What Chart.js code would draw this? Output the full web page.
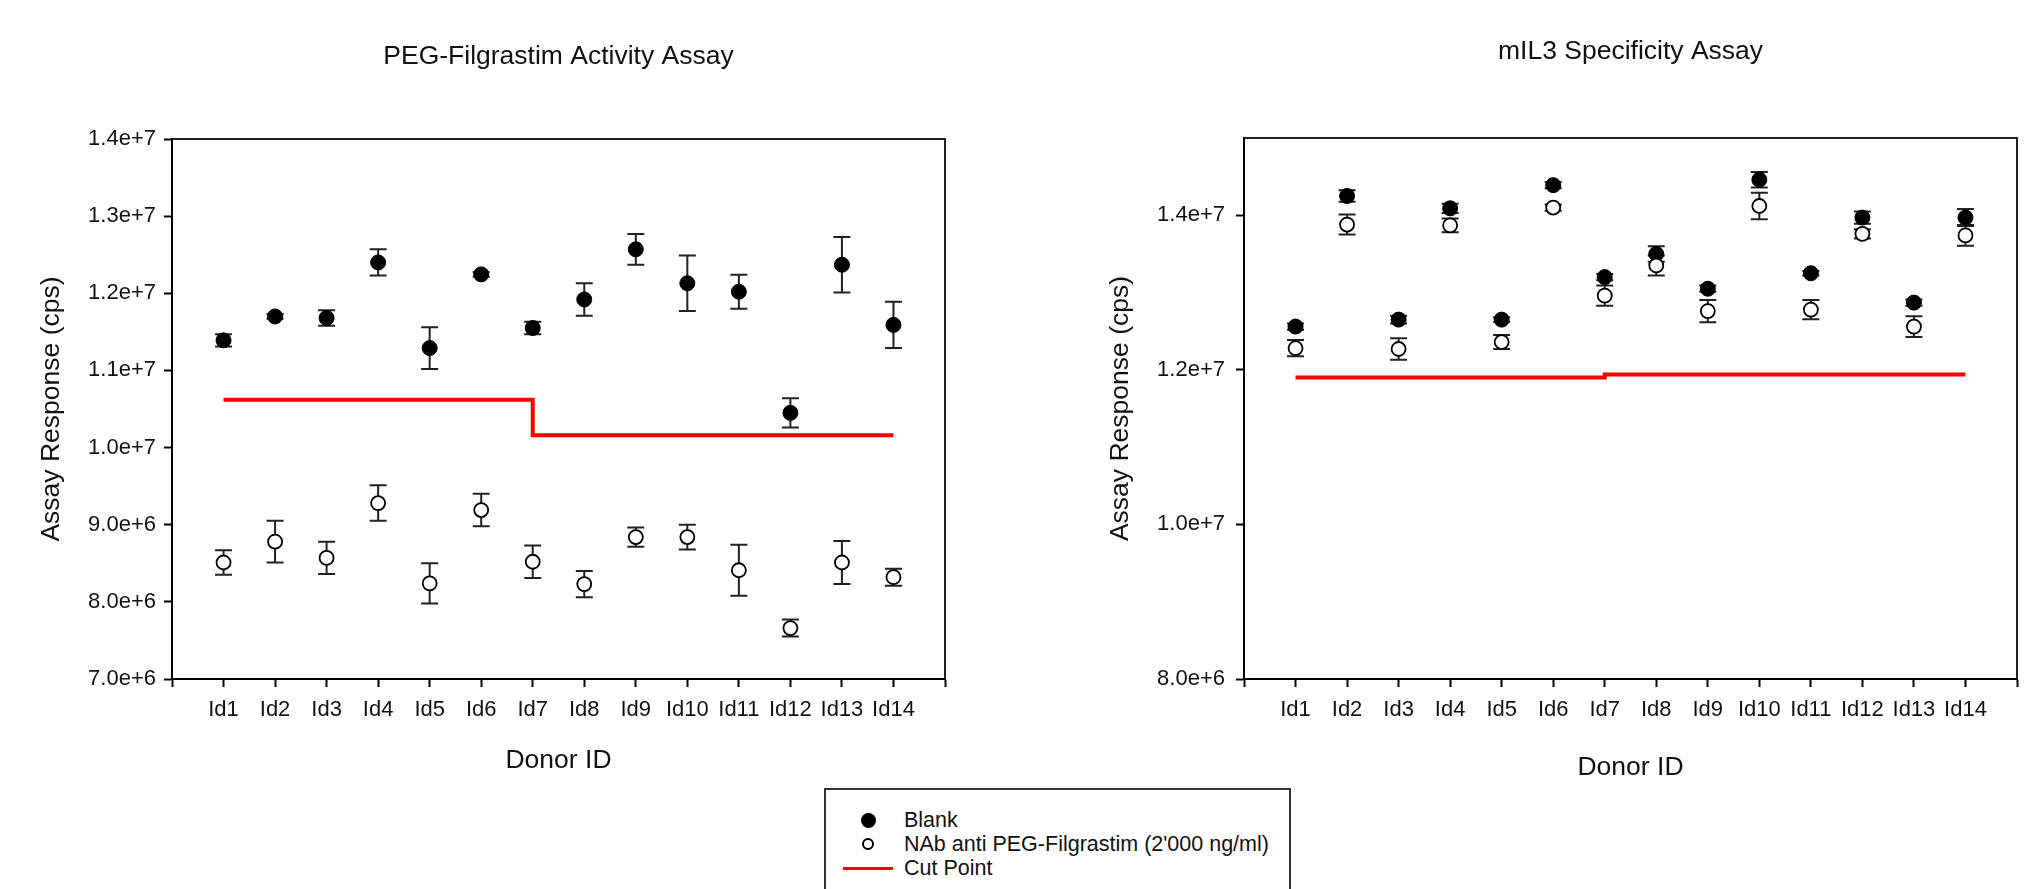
<!DOCTYPE html>
<html lang="en">
<head>
  <meta charset="UTF-8" />
  <title>Donor Assay Responses</title>
  <script src="https://cdn.jsdelivr.net/npm/chart.js"></script>
  <style>
    html, body { margin: 0; padding: 0; background: #fff; }
    body { width: 2039px; height: 889px; position: relative; overflow: hidden; font-family: 'Liberation Sans', Arial, sans-serif; }
    canvas { position: absolute; top: 0; }
    #graficoPeg { left: 0; }
    #graficoMil3 { left: 1000px; }
    #legenda {
      position: absolute; left: 824px; top: 788px; width: 463px; height: 140px;
      border: 2px solid #333; background: #fff; box-sizing: content-box;
      padding-top: 18px;
    }
    .item { display: flex; align-items: center; height: 24px; font-size: 21.5px; color: #111; padding-left: 17px; }
    .simbolo { width: 50px; height: 18px; display: flex; align-items: center; justify-content: center; margin-right: 11px; }
    .cheio { width: 15px; height: 15px; border-radius: 50%; background: #000; }
    .vazio { width: 8px; height: 8px; border-radius: 50%; border: 2px solid #000; background: #fff; }
    .linha { width: 50px; height: 3px; background: #ff0000; }
  </style>
</head>
<body>
  <canvas id="graficoPeg" width="1000" height="889"></canvas>
  <canvas id="graficoMil3" width="1039" height="889"></canvas>

  <div id="legenda">
    <div class="item"><span class="simbolo"><span class="cheio"></span></span><span>Blank</span></div>
    <div class="item"><span class="simbolo"><span class="vazio"></span></span><span>NAb anti PEG-Filgrastim (2'000 ng/ml)</span></div>
    <div class="item"><span class="simbolo"><span class="linha"></span></span><span>Cut Point</span></div>
  </div>

<script>
  const donorIds = ['Id1', 'Id2', 'Id3', 'Id4', 'Id5', 'Id6', 'Id7', 'Id8', 'Id9', 'Id10', 'Id11', 'Id12', 'Id13', 'Id14'];

  // PEG-Filgrastim activity (cps), mean and SD per donor
  const pegBlank = [11.39e6, 11.70e6, 11.68e6, 12.40e6, 11.29e6, 12.245e6, 11.55e6, 11.92e6, 12.57e6, 12.13e6, 12.02e6, 10.45e6, 12.37e6, 11.59e6];
  const pegBlankSd = [0.08e6, 0.03e6, 0.10e6, 0.17e6, 0.27e6, 0.03e6, 0.08e6, 0.21e6, 0.20e6, 0.36e6, 0.22e6, 0.19e6, 0.36e6, 0.30e6];
  const pegNab = [8.51e6, 8.78e6, 8.57e6, 9.28e6, 8.24e6, 9.19e6, 8.52e6, 8.23e6, 8.84e6, 8.84e6, 8.41e6, 7.66e6, 8.51e6, 8.32e6];
  const pegNabSd = [0.16e6, 0.27e6, 0.21e6, 0.23e6, 0.26e6, 0.21e6, 0.21e6, 0.17e6, 0.125e6, 0.16e6, 0.33e6, 0.11e6, 0.28e6, 0.11e6];
  const pegCut = [10.62e6, 10.62e6, 10.62e6, 10.62e6, 10.62e6, 10.62e6, 10.16e6, 10.16e6, 10.16e6, 10.16e6, 10.16e6, 10.16e6, 10.16e6, 10.16e6];

  // mIL3 specificity (cps)
  const milBlank = [12.56e6, 14.25e6, 12.65e6, 14.09e6, 12.65e6, 14.39e6, 13.20e6, 13.50e6, 13.05e6, 14.46e6, 13.25e6, 13.97e6, 12.87e6, 13.97e6];
  const milBlankSd = [0.04e6, 0.075e6, 0.05e6, 0.06e6, 0.03e6, 0.04e6, 0.04e6, 0.10e6, 0.04e6, 0.10e6, 0.03e6, 0.08e6, 0.04e6, 0.11e6];
  const milNab = [12.28e6, 13.88e6, 12.27e6, 13.87e6, 12.36e6, 14.10e6, 12.96e6, 13.35e6, 12.76e6, 14.12e6, 12.78e6, 13.76e6, 12.56e6, 13.74e6];
  const milNabSd = [0.105e6, 0.13e6, 0.14e6, 0.09e6, 0.09e6, 0.04e6, 0.13e6, 0.13e6, 0.145e6, 0.17e6, 0.125e6, 0.06e6, 0.135e6, 0.135e6];
  const milCut = [11.90e6, 11.90e6, 11.90e6, 11.90e6, 11.90e6, 11.90e6, 11.94e6, 11.94e6, 11.94e6, 11.94e6, 11.94e6, 11.94e6, 11.94e6, 11.94e6];

  const pegYTicks = [7e6, 8e6, 9e6, 10e6, 11e6, 12e6, 13e6, 14e6];
  const pegYLabels = ['7.0e+6', '8.0e+6', '9.0e+6', '1.0e+7', '1.1e+7', '1.2e+7', '1.3e+7', '1.4e+7'];
  const milYTicks = [8e6, 10e6, 12e6, 14e6];
  const milYLabels = ['8.0e+6', '1.0e+7', '1.2e+7', '1.4e+7'];

  const FONTE = "'Liberation Sans', Arial, sans-serif";
  Chart.defaults.font.family = FONTE;
  Chart.defaults.color = '#111';

  // SD whiskers, drawn under the markers
  const barrasErro = {
    id: 'barrasErro',
    beforeDatasetsDraw(chart) {
      const { ctx, scales: { x, y } } = chart;
      ctx.save();
      ctx.strokeStyle = '#222';
      ctx.lineWidth = 2;
      chart.data.datasets.forEach(ds => {
        if (!ds.sd) return;
        ds.data.forEach((p, i) => {
          const px = x.getPixelForValue(p.x);
          const topo = y.getPixelForValue(p.y + ds.sd[i]);
          const base = y.getPixelForValue(p.y - ds.sd[i]);
          ctx.beginPath();
          ctx.moveTo(px, topo); ctx.lineTo(px, base);
          ctx.moveTo(px - 8.5, topo); ctx.lineTo(px + 8.5, topo);
          ctx.moveTo(px - 8.5, base); ctx.lineTo(px + 8.5, base);
          ctx.stroke();
        });
      });
      ctx.restore();
    }
  };

  // top and right edges of the plot box, plus the panel title
  const moldura = {
    id: 'moldura',
    afterDraw(chart, args, opts) {
      const { ctx, chartArea: a } = chart;
      ctx.save();
      ctx.strokeStyle = '#222';
      ctx.lineWidth = 2;
      ctx.beginPath();
      ctx.moveTo(a.left, a.top); ctx.lineTo(a.right, a.top); ctx.lineTo(a.right, a.bottom);
      ctx.stroke();
      ctx.fillStyle = '#111';
      ctx.font = `26.5px ${FONTE}`;
      ctx.textAlign = 'center';
      ctx.textBaseline = 'middle';
      ctx.fillText(opts.titulo, (a.left + a.right) / 2, opts.tituloY);
      ctx.restore();
    }
  };

  function pontos(valores) {
    return valores.map((v, i) => ({ x: i + 1, y: v }));
  }

  function criarGrafico(id, cfg) {
    const ctx = document.getElementById(id).getContext('2d');
    return new Chart(ctx, {
      type: 'scatter',
      data: {
        datasets: [
          {
            label: 'Cut Point',
            data: pontos(cfg.cut),
            showLine: true,
            stepped: true,
            borderColor: '#ff0000',
            borderWidth: 4,
            pointRadius: 0,
            order: 3
          },
          {
            label: 'Blank',
            data: pontos(cfg.blank),
            sd: cfg.blankSd,
            pointRadius: 7.5,
            pointBackgroundColor: '#000',
            pointBorderColor: '#000',
            pointBorderWidth: 1,
            order: 2
          },
          {
            label: "NAb anti PEG-Filgrastim (2'000 ng/ml)",
            data: pontos(cfg.nab),
            sd: cfg.nabSd,
            pointRadius: 7,
            pointBackgroundColor: '#fff',
            pointBorderColor: '#000',
            pointBorderWidth: 1.8,
            order: 1
          }
        ]
      },
      options: {
        responsive: false,
        animation: false,
        events: [],
        layout: { padding: cfg.padding },
        plugins: {
          legend: { display: false },
          tooltip: { enabled: false },
          moldura: { titulo: cfg.titulo, tituloY: cfg.tituloY }
        },
        scales: {
          x: {
            type: 'linear',
            min: 0,
            max: donorIds.length + 1,
            afterBuildTicks: axis => {
              axis.ticks = Array.from({ length: donorIds.length + 2 }, (_, i) => ({ value: i }));
            },
            afterFit: axis => { axis.height = 210; },
            ticks: {
              autoSkip: false,
              maxRotation: 0,
              padding: 10,
              font: { size: 22 },
              color: '#111',
              callback: v => donorIds[v - 1] || ''
            },
            grid: { drawOnChartArea: false, tickLength: 8, tickWidth: 2, tickColor: '#000' },
            border: { display: true, color: '#000', width: 2 },
            title: {
              display: true,
              text: 'Donor ID',
              font: { size: 26.5 },
              color: '#111',
              padding: { top: 0, bottom: cfg.xTitlePad }
            }
          },
          y: {
            min: cfg.yMin,
            max: cfg.yMax,
            afterBuildTicks: axis => {
              axis.ticks = cfg.yTicks.map(v => ({ value: v }));
            },
            afterFit: axis => { axis.width = cfg.yWidth; },
            ticks: {
              padding: cfg.yTickPad,
              font: { size: 22 },
              color: '#111',
              callback: v => cfg.yLabels[cfg.yTicks.indexOf(v)]
            },
            grid: { drawOnChartArea: false, tickLength: 8, tickWidth: 2, tickColor: '#000' },
            border: { display: true, color: '#000', width: 2 },
            title: {
              display: true,
              text: 'Assay Response (cps)',
              font: { size: 26.5 },
              color: '#111',
              padding: { top: cfg.yTitlePad, bottom: 0 }
            }
          }
        }
      },
      plugins: [barrasErro, moldura]
    });
  }

  criarGrafico('graficoPeg', {
    titulo: 'PEG-Filgrastim Activity Assay',
    tituloY: 57,
    blank: pegBlank, blankSd: pegBlankSd,
    nab: pegNab, nabSd: pegNabSd,
    cut: pegCut,
    yMin: 7e6, yMax: 14e6,
    yTicks: pegYTicks, yLabels: pegYLabels,
    padding: { top: 139, right: 55, bottom: 0, left: 0 },
    yWidth: 172,
    yTickPad: 8,
    xTitlePad: 112,
    yTitlePad: 36
  });

  criarGrafico('graficoMil3', {
    titulo: 'mIL3 Specificity Assay',
    tituloY: 52,
    blank: milBlank, blankSd: milBlankSd,
    nab: milNab, nabSd: milNabSd,
    cut: milCut,
    yMin: 8e6, yMax: 15e6,
    yTicks: milYTicks, yLabels: milYLabels,
    padding: { top: 138, right: 22, bottom: 0, left: 0 },
    yWidth: 244,
    yTickPad: 11,
    xTitlePad: 105,
    yTitlePad: 105
  });
</script>
</body>
</html>
